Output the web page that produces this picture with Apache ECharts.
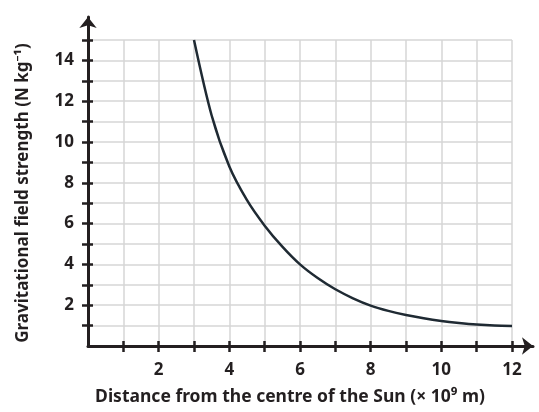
<!DOCTYPE html>
<html><head><meta charset="utf-8">
<script src="https://cdn.jsdelivr.net/npm/echarts@6/dist/echarts.min.js"></script>
<style>html,body{margin:0;padding:0;background:#fff}#c{width:539px;height:412px}</style>
</head><body><div id="c"></div>
<script>
const xValues = [3, 3.5, 4, 4.5, 5, 5.5, 6, 6.5, 7, 7.5, 8, 8.5, 9, 9.5, 10, 10.5, 11, 11.5, 12];
const yValues = [15, 11.3, 8.8, 7.15, 5.9, 4.87, 4.0, 3.33, 2.78, 2.34, 1.98, 1.72, 1.52, 1.36, 1.23, 1.13, 1.05, 1.0, 0.98];
const xTickLabels = [2, 4, 6, 8, 10, 12];
const yTickLabels = [2, 4, 6, 8, 10, 12, 14];
const xMinorTicks = [1,2,3,4,5,6,7,8,9,10,11,12];
const yMinorTicks = [1,2,3,4,5,6,7,8,9,10,11,12,13,14,15];
const xTitle = 'Distance from the centre of the Sun (× 10⁹ m)';
const yTitle = 'Gravitational field strength (N kg⁻¹)';

const W = 539, H = 412;
const gA = {left: 88, right: 27, top: 40, bottom: 66};
const gB = {left: 88, right: 6, top: 17, bottom: 66};
const xScale = (W - gA.left - gA.right) / 12;
const yScale = (H - gA.top - gA.bottom) / 15;
const xMaxB = (W - gB.left - gB.right) / xScale;
const yMaxB = (H - gB.top - gB.bottom) / yScale;

const ink = '#231f20';
const font = 'Noto Sans';
const data = xValues.map((x, i) => [x, yValues[i]]);

const chart = echarts.init(document.getElementById('c'), null, {renderer: 'canvas'});
chart.setOption({
  animation: false,
  grid: [
    Object.assign({containLabel: false}, gA),
    Object.assign({containLabel: false}, gB)
  ],
  xAxis: [
    {gridIndex: 0, type: 'value', min: 0, max: 12, interval: 1,
     axisLine: {show: false},
     axisTick: {show: true, inside: true, length: 5, lineStyle: {color: ink, width: 2.5}},
     axisLabel: {show: false},
     splitLine: {show: true, lineStyle: {color: '#d6d6d6', width: 1.5}},
     name: xTitle, nameLocation: 'middle', nameGap: 42,
     nameTextStyle: {fontFamily: font, fontSize: 17.5, fontWeight: 'bold', color: ink, padding: [0, 20, 0, 0]}
    },
    {gridIndex: 1, type: 'value', min: 0, max: xMaxB,
     axisLine: {show: true, symbol: ['none', 'arrow'], symbolSize: [13, 11], lineStyle: {color: ink, width: 3}},
     axisTick: {show: true, inside: false, length: 6, customValues: xMinorTicks, lineStyle: {color: ink, width: 2.5}},
     axisLabel: {show: true, customValues: xTickLabels, margin: 16, fontFamily: font, fontSize: 17, fontWeight: 'bold', color: ink},
     splitLine: {show: false}
    }
  ],
  yAxis: [
    {gridIndex: 0, type: 'value', min: 0, max: 15, interval: 1,
     axisLine: {show: false},
     axisTick: {show: true, inside: true, length: 5, lineStyle: {color: ink, width: 2.5}},
     axisLabel: {show: false},
     splitLine: {show: true, lineStyle: {color: '#d6d6d6', width: 1.5}},
     name: yTitle, nameLocation: 'middle', nameGap: 56,
     nameTextStyle: {fontFamily: font, fontSize: 17, fontWeight: 'bold', color: ink}
    },
    {gridIndex: 1, type: 'value', min: 0, max: yMaxB,
     axisLine: {show: true, symbol: ['none', 'arrow'], symbolSize: [13, 11], lineStyle: {color: ink, width: 3}},
     axisTick: {show: true, inside: false, length: 6, customValues: yMinorTicks, lineStyle: {color: ink, width: 2.5}},
     axisLabel: {show: true, customValues: yTickLabels, margin: 14, fontFamily: font, fontSize: 17, fontWeight: 'bold', color: ink},
     splitLine: {show: false}
    }
  ],
  series: [{
    type: 'line', xAxisIndex: 0, yAxisIndex: 0, data: data,
    smooth: 0.3, showSymbol: false,
    lineStyle: {color: '#1f2a33', width: 2.5}
  }]
});
</script></body></html>
